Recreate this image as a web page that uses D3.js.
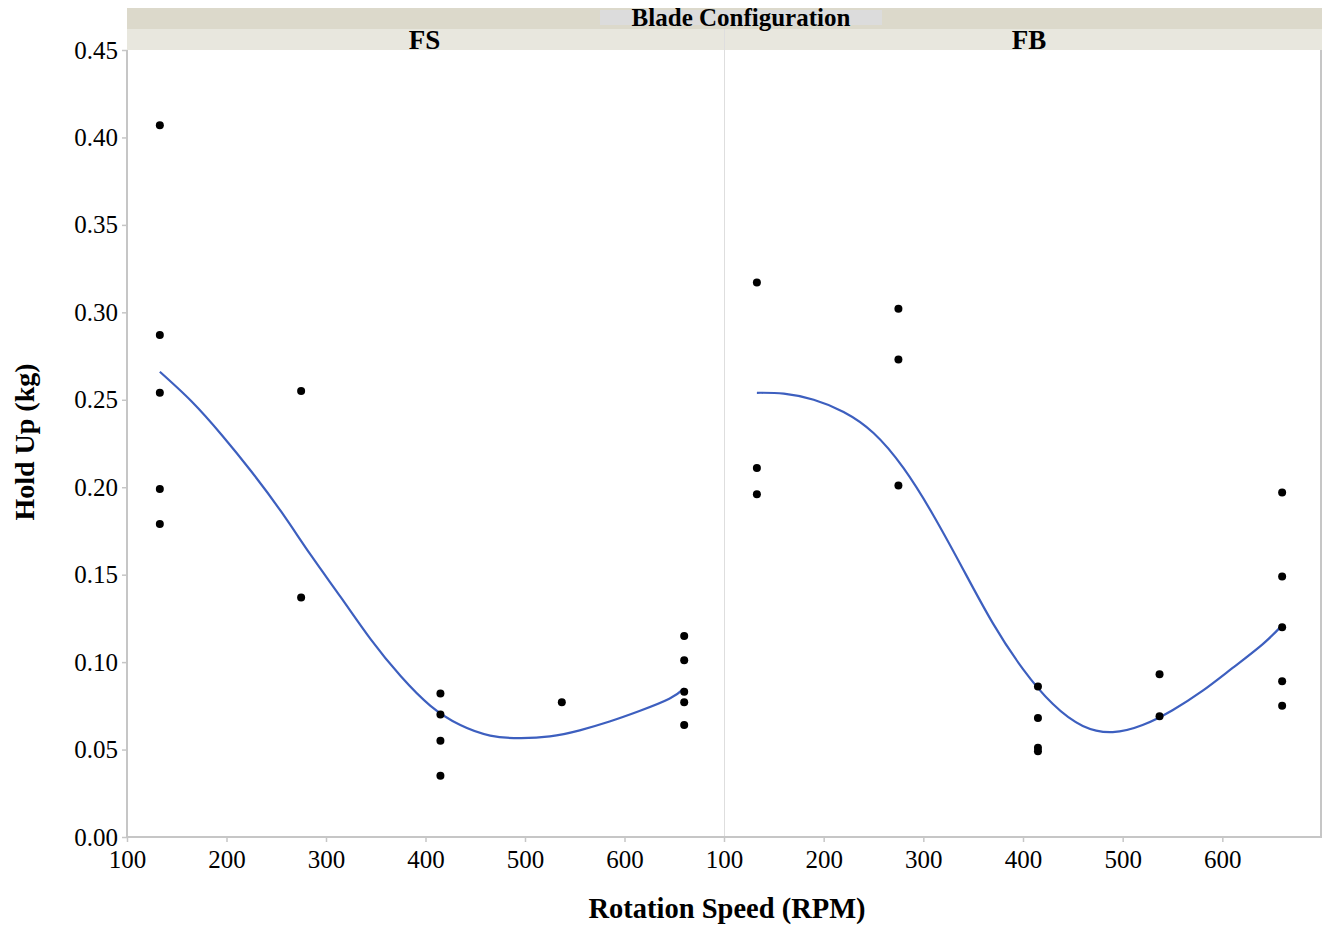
<!DOCTYPE html>
<html><head><meta charset="utf-8">
<script src="https://cdn.jsdelivr.net/npm/d3@7/dist/d3.min.js"></script>
<style>body{margin:0;background:#fff}svg{display:block}</style>
</head><body>
<script>
const panels = ["FS", "FB"];
const outerStrip = "Blade Configuration";
const xTicks = [100, 200, 300, 400, 500, 600];
const yTicks = [0, 0.05, 0.10, 0.15, 0.20, 0.25, 0.30, 0.35, 0.40, 0.45];

const fsRpm  = [133, 133, 133, 133, 133, 275, 275, 415, 415, 415, 415, 537, 660, 660, 660, 660, 660];
const fsHold = [0.407, 0.287, 0.254, 0.199, 0.179, 0.255, 0.137, 0.082, 0.070, 0.055, 0.035, 0.077, 0.115, 0.101, 0.083, 0.077, 0.064];
const fbRpm  = [133, 133, 133, 275, 275, 275, 415, 415, 415, 415, 537, 537, 660, 660, 660, 660, 660];
const fbHold = [0.317, 0.211, 0.196, 0.302, 0.273, 0.201, 0.086, 0.068, 0.051, 0.049, 0.093, 0.069, 0.197, 0.149, 0.120, 0.089, 0.075];

const fsFitRpm = [133, 165, 195, 225, 255, 285, 315, 345, 375, 405, 435, 465, 495, 525, 555, 585, 615, 645, 660];
const fsFitVal = [0.266, 0.249, 0.230, 0.209, 0.186, 0.161, 0.137, 0.113, 0.092, 0.075, 0.064, 0.058, 0.0565, 0.0575, 0.061, 0.066, 0.072, 0.079, 0.085];
const fbFitRpm = [133, 160, 190, 220, 250, 280, 310, 340, 370, 400, 430, 460, 490, 520, 550, 580, 610, 640, 660];
const fbFitVal = [0.254, 0.2535, 0.250, 0.243, 0.231, 0.211, 0.184, 0.153, 0.122, 0.096, 0.076, 0.0635, 0.060, 0.064, 0.0725, 0.0835, 0.0965, 0.110, 0.121];

const W = 1328, H = 928;
const svg = d3.select("body").append("svg").attr("width", W).attr("height", H);
const plotTop = 50, plotBottom = 837;
const panelX = [[127, 724], [724, 1322]];
const y = d3.scaleLinear().domain([0, 0.45]).range([plotBottom, plotTop]);
const xs = panelX.map(r => d3.scaleLinear().domain([100, 700]).range(r));
const serif = "'Liberation Serif','Times New Roman',serif";
const axisCol = "#c6c6c6";

// strips
svg.append("rect").attr("x", 127).attr("y", 8).attr("width", 1195).attr("height", 21).attr("fill", "#dcd9cb");
svg.append("rect").attr("x", 127).attr("y", 29).attr("width", 1195).attr("height", 21).attr("fill", "#e8e7de");
svg.append("rect").attr("x", 600).attr("y", 10).attr("width", 282).attr("height", 15).attr("fill", "#dcdcdc");
svg.append("text").attr("x", 741).attr("y", 26).attr("text-anchor", "middle")
  .attr("font-family", serif).attr("font-weight", "bold").attr("font-size", 25).text(outerStrip);
panels.forEach((p, i) => {
  const [a, b] = panelX[i];
  svg.append("text").attr("x", (a + b) / 2 + (i ? 6 : -1)).attr("y", 49).attr("text-anchor", "middle")
    .attr("font-family", serif).attr("font-weight", "bold").attr("font-size", 27).text(p);
});

// divider and right border
svg.append("line").attr("x1", 724.5).attr("x2", 724.5).attr("y1", 29).attr("y2", plotBottom).attr("stroke", "#dedede").attr("stroke-width", 1);
svg.append("line").attr("x1", 1321).attr("x2", 1321).attr("y1", plotTop).attr("y2", plotBottom).attr("stroke", axisCol).attr("stroke-width", 2);

// y axis
const yAxis = svg.append("g").attr("transform", "translate(127,0)")
  .call(d3.axisLeft(y).tickValues(yTicks).tickFormat(d3.format(".2f")).tickSize(5).tickPadding(4));
yAxis.select(".domain").attr("stroke", axisCol).attr("stroke-width", 2).attr("d", `M0,${plotTop}V${plotBottom}`);
yAxis.selectAll(".tick line").attr("stroke", axisCol).attr("stroke-width", 1.5);
yAxis.selectAll(".tick text").attr("font-family", serif).attr("font-size", 25).attr("fill", "#000");

// x axes
xs.forEach((x, i) => {
  const g = svg.append("g").attr("transform", `translate(0,${plotBottom})`)
    .call(d3.axisBottom(x).tickValues(xTicks).tickSize(5).tickPadding(8));
  g.select(".domain").attr("stroke", axisCol).attr("stroke-width", 2).attr("d", `M${panelX[i][0] - 1},0H${panelX[i][1]}`);
  g.selectAll(".tick line").attr("stroke", axisCol).attr("stroke-width", 1.5);
  g.selectAll(".tick text").attr("font-family", serif).attr("font-size", 25).attr("fill", "#000");
});

// data
const sets = [
  {x: xs[0], rpm: fsRpm, hold: fsHold, fr: fsFitRpm, fv: fsFitVal},
  {x: xs[1], rpm: fbRpm, hold: fbHold, fr: fbFitRpm, fv: fbFitVal}
];
sets.forEach(s => {
  const line = d3.line().x(d => s.x(d[0])).y(d => y(d[1])).curve(d3.curveNatural);
  svg.append("path").datum(s.fr.map((r, k) => [r, s.fv[k]]))
    .attr("d", line).attr("fill", "none").attr("stroke", "#3d5fbf").attr("stroke-width", 2.2);
  svg.append("g").selectAll("circle").data(s.rpm.map((r, k) => [r, s.hold[k]])).join("circle")
    .attr("cx", d => s.x(d[0])).attr("cy", d => y(d[1])).attr("r", 4).attr("fill", "#000");
});

// titles
svg.append("text").attr("transform", "translate(34,442) rotate(-90)").attr("text-anchor", "middle")
  .attr("font-family", serif).attr("font-weight", "bold").attr("font-size", 28).text("Hold Up (kg)");
svg.append("text").attr("x", 727).attr("y", 918).attr("text-anchor", "middle")
  .attr("font-family", serif).attr("font-weight", "bold").attr("font-size", 28.5).text("Rotation Speed (RPM)");
</script>
</body></html>
